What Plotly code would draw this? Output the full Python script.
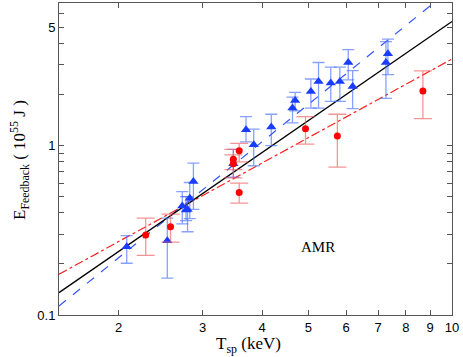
import plotly.graph_objects as go

# blue triangles
blue_t = [2.08, 2.53, 2.72, 2.77, 2.79, 2.82, 2.87, 3.48, 3.70, 3.84, 4.18, 4.63,
          4.69, 5.06, 5.25, 5.57, 5.82, 6.06, 6.19, 7.27, 7.34]
blue_e = [0.253, 0.274, 0.44, 0.417, 0.42, 0.489, 0.613, 0.78, 1.238, 1.01, 1.285, 1.664,
          1.845, 2.085, 2.39, 2.335, 2.39, 3.09, 2.23, 3.09, 3.48]
blue_hi = [0.294, 0.373, 0.535, 0.50, 0.50, 0.605, 0.787, 0.95, 1.48, 1.25, 1.53, 1.93,
           2.06, 2.47, 3.09, 2.9, 2.9, 3.68, 2.77, 4.1, 4.25]
blue_lo = [0.202, 0.165, 0.345, 0.36, 0.31, 0.37, 0.42, 0.65, 1.05, 0.76, 1.0, 1.36,
           1.6, 1.66, 1.66, 1.82, 1.82, 2.44, 1.65, 1.9, 2.62]

# red dots
red_t = [2.28, 2.57, 3.48, 3.48, 3.58, 3.58, 4.93, 5.75, 8.69]
red_e = [0.297, 0.332, 0.831, 0.78, 0.93, 0.528, 1.255, 1.14, 2.1]
red_hi = [0.373, 0.394, 0.95, 0.88, 1.03, 0.60, 1.48, 1.53, 2.76]
red_lo = [0.225, 0.269, 0.72, 0.645, 0.80, 0.457, 1.02, 0.745, 1.44]

# fit lines (end points)
fit_t = [1.5, 10]
fit_all = [0.1355, 5.40]
fit_blue = [0.113, 8.48]
fit_red = [0.174, 3.24]

y_ticks = [0.1, 1, 5]
y_minor = [0.2, 0.3, 0.4, 0.5, 0.6, 0.7, 0.8, 0.9, 2, 3, 4, 6, 7]
x_ticks = [2, 3, 4, 5, 6, 7, 8, 9, 10]

serif = dict(family="Liberation Serif", size=17, color="black")

fig = go.Figure()

fig.add_trace(go.Scatter(x=fit_t, y=fit_red, mode="lines",
                         line=dict(color="#ff2020", width=1.2, dash="dashdot")))
fig.add_trace(go.Scatter(x=fit_t, y=fit_blue, mode="lines",
                         line=dict(color="#3355ff", width=1.2, dash="dash")))
fig.add_trace(go.Scatter(x=fit_t, y=fit_all, mode="lines",
                         line=dict(color="black", width=1.3)))

fig.add_trace(go.Scatter(
    x=blue_t, y=blue_e, mode="markers",
    marker=dict(symbol="triangle-up", size=9, color="#1a3cff"),
    error_y=dict(type="data", symmetric=False,
                 array=[h - v for h, v in zip(blue_hi, blue_e)],
                 arrayminus=[v - l for l, v in zip(blue_lo, blue_e)],
                 color="rgba(70,110,255,0.65)", thickness=1.3, width=6),
))
fig.add_trace(go.Scatter(
    x=red_t, y=red_e, mode="markers",
    marker=dict(symbol="circle", size=7, color="#ff0000"),
    error_y=dict(type="data", symmetric=False,
                 array=[h - v for h, v in zip(red_hi, red_e)],
                 arrayminus=[v - l for l, v in zip(red_lo, red_e)],
                 color="rgba(240,90,90,0.65)", thickness=1.3, width=9),
))

fig.add_annotation(x=0.7193, y=-0.597, xref="x", yref="y", text="AMR", showarrow=False,
                   font=dict(family="Liberation Serif", size=15, color="black"))
fig.add_annotation(x=248, y=357 - 345, xref="paper", yref="paper", text="T<sub>sp</sub> (keV)",
                   showarrow=False, font=serif)
fig.add_annotation(x=19, y=357 - 160, xref="paper", yref="paper",
                   text="E<sub>Feedback</sub> ( 10<sup>55</sup> J )", textangle=-90,
                   showarrow=False, font=serif)

axis_common = dict(
    type="log", showgrid=False, zeroline=False, showline=True, mirror="ticks",
    linecolor="#555", linewidth=1, ticks="inside", ticklen=5, tickcolor="#555",
    tickfont=dict(family="Liberation Sans", size=13, color="black"), automargin=False,
)

fig.update_xaxes(range=[0.1761, 1.0], tickvals=x_ticks, ticktext=[str(v) for v in x_ticks],
                 **axis_common)
fig.update_yaxes(range=[-1.0, 0.841], tickvals=y_ticks, ticktext=["0.1", "1", "5"],
                 minor=dict(tickvals=y_minor, ticks="inside", ticklen=5, tickcolor="#555",
                            showgrid=False),
                 **axis_common)

fig.update_layout(
    width=463, height=357,
    margin=dict(l=59, r=11, t=3, b=42, autoexpand=False),
    plot_bgcolor="white", paper_bgcolor="white",
    showlegend=False,
)

# annotations in pixel coordinates -> convert to paper fractions
pw, ph = 463 - 59 - 11, 357 - 3 - 42
for a in fig.layout.annotations[1:]:
    a.x = (a.x - 59) / pw
    a.y = (a.y - 42) / ph
    a.xanchor = "center"
    a.yanchor = "middle"

fig.write_html("out.html", config={"displayModeBar": False},
               post_script="document.body.style.margin='0';")
